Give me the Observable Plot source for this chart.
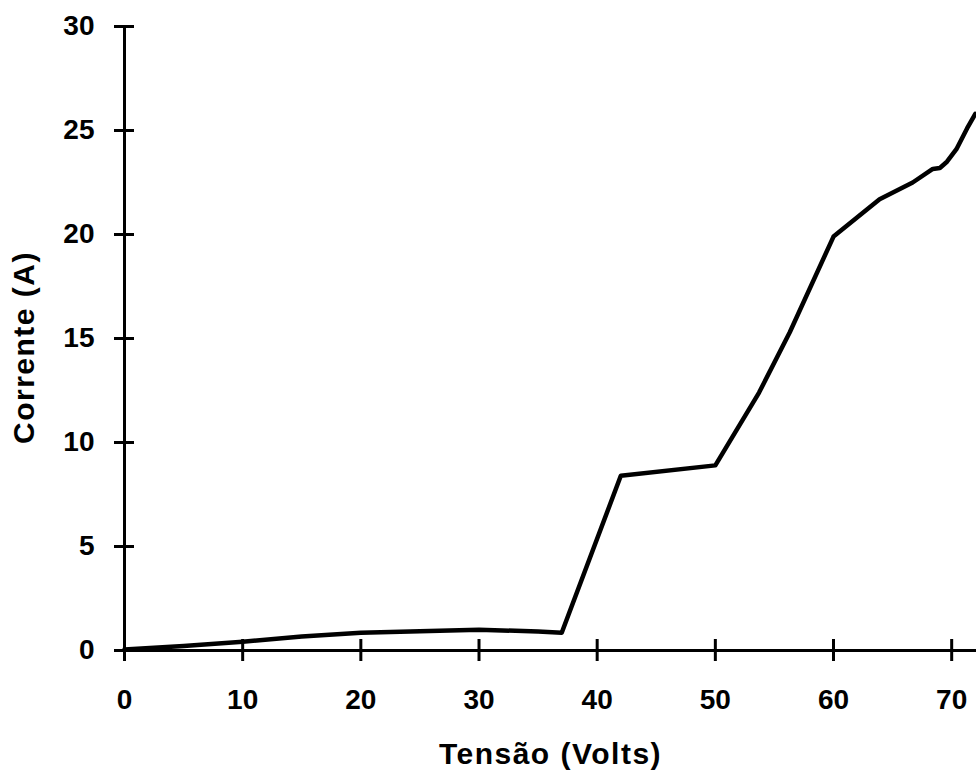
<!DOCTYPE html>
<html>
<head>
<meta charset="utf-8">
<script src="https://cdn.jsdelivr.net/npm/d3@7"></script>
<script src="https://cdn.jsdelivr.net/npm/@observablehq/plot@0.6"></script>
<style>
  html, body { margin: 0; padding: 0; background: #fff; }
  .title-text { letter-spacing: 1.5px; }
</style>
</head>
<body>
<div id="chart"></div>
<script>
const voltage = [0, 5, 10, 15, 20, 25, 30, 35, 37, 42, 50, 53.7, 56.3, 60, 63.9, 66.7, 68.4, 69.0, 69.6, 70.4, 71.3, 72.0];
const current = [0.05, 0.22, 0.42, 0.67, 0.85, 0.93, 1.0, 0.91, 0.85, 8.4, 8.9, 12.4, 15.3, 19.9, 21.7, 22.5, 23.15, 23.2, 23.5, 24.1, 25.1, 25.8];
const xTicks = [0, 10, 20, 30, 40, 50, 60, 70];
const yTicks = [0, 5, 10, 15, 20, 25, 30];
const xLabel = "Tensão (Volts)";
const yLabel = "Corrente (A)";

const data = voltage.map((v, i) => ({v, c: current[i]}));

const chart = Plot.plot({
  width: 976,
  height: 779,
  marginLeft: 124,
  marginRight: 0,
  marginTop: 26,
  marginBottom: 129,
  style: "font-family: 'Liberation Sans', Arial, sans-serif; font-size: 28px; font-weight: bold; background: #fff; color: #000;",
  x: {domain: [0, 72.1]},
  y: {domain: [0, 30]},
  marks: [
    Plot.ruleY([0], {stroke: "#000", strokeWidth: 3}),
    Plot.ruleX([0], {y1: 0, y2: 30, stroke: "#000", strokeWidth: 3}),
    Plot.axisY({ticks: yTicks, tickSize: 20, dx: 10, tickPadding: 20, label: null, strokeWidth: 3, fontSize: 28, fontWeight: "bold"}),
    Plot.axisX({ticks: xTicks, tickSize: 22, dy: -11, tickPadding: 28, label: null, strokeWidth: 3, fontSize: 28, fontWeight: "bold"}),
    Plot.line(data, {x: "v", y: "c", stroke: "#000", strokeWidth: 4.5, strokeLinejoin: "round"}),
    Plot.text([xLabel], {frameAnchor: "bottom", dy: 104, lineAnchor: "middle", textAnchor: "middle", fontSize: 30, fontWeight: "bold", className: "title-text"}),
    Plot.text([yLabel], {frameAnchor: "left", rotate: -90, dx: -100, dy: 9, lineAnchor: "middle", textAnchor: "middle", fontSize: 30, fontWeight: "bold", className: "title-text"})
  ]
});
document.getElementById("chart").appendChild(chart);
</script>
</body>
</html>
